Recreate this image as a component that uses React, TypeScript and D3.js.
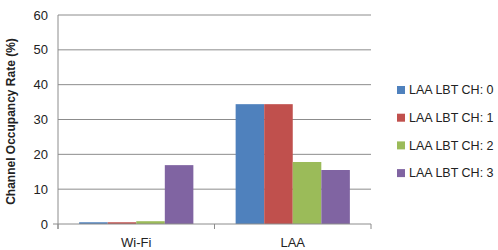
import React from "react";
import * as d3 from "d3";

const categories = ["Wi-Fi", "LAA"];
const series = ["LAA LBT CH: 0", "LAA LBT CH: 1", "LAA LBT CH: 2", "LAA LBT CH: 3"];
const colors = ["#4f81bd", "#c0504d", "#9bbb59", "#8064a2"];
// values[series][category]
const values = [
  [0.5, 34.4],
  [0.5, 34.4],
  [0.8, 17.8],
  [16.9, 15.5],
];
const yTicks = [0, 10, 20, 30, 40, 50, 60];

const W = 498;
const H = 250;
const m = { left: 58, right: 127, top: 15, bottom: 26 };

const font = "'Liberation Sans', Arial, sans-serif";

export default function App() {
  const x0 = d3
    .scaleBand()
    .domain(categories)
    .range([m.left, W - m.right]);

  const x1 = d3
    .scaleBand()
    .domain(series)
    .range([0, x0.bandwidth()])
    .paddingOuter(0.74);

  const y = d3
    .scaleLinear()
    .domain([0, 60])
    .range([H - m.bottom, m.top]);

  const bottom = H - m.bottom;

  return (
    <svg
      width={W}
      height={H}
      style={{ position: "absolute", left: 0, top: 0, background: "#fff" }}
    >
      {yTicks.map((t) => (
        <g key={`g${t}`}>
          {t > 0 && (
            <line
              x1={m.left}
              x2={W - m.right}
              y1={y(t)}
              y2={y(t)}
              stroke="#8c8c8c"
              strokeWidth={1}
            />
          )}
          <text
            x={m.left - 10}
            y={y(t)}
            dy="0.35em"
            textAnchor="end"
            fontFamily={font}
            fontSize={13}
            fill="#222"
          >
            {t}
          </text>
        </g>
      ))}

      {series.map((s, i) =>
        categories.map((c, j) => (
          <rect
            key={`b${i}-${j}`}
            x={(x0(c) ?? 0) + (x1(s) ?? 0)}
            y={y(values[i][j])}
            width={x1.bandwidth()}
            height={bottom - y(values[i][j])}
            fill={colors[i]}
          />
        ))
      )}

      {/* axes */}
      <line x1={m.left} x2={m.left} y1={m.top} y2={bottom + 5} stroke="#8c8c8c" />
      <line x1={m.left - 5} x2={W - m.right} y1={bottom} y2={bottom} stroke="#8c8c8c" />
      {[0, 1, 2].map((k) => {
        const xx = m.left + k * x0.bandwidth();
        return (
          <line key={`t${k}`} x1={xx} x2={xx} y1={bottom} y2={bottom + 5} stroke="#8c8c8c" />
        );
      })}

      {categories.map((c) => (
        <text
          key={c}
          x={(x0(c) ?? 0) + x0.bandwidth() / 2}
          y={H - 3}
          textAnchor="middle"
          fontFamily={font}
          fontSize={13}
          fill="#222"
        >
          {c}
        </text>
      ))}

      <text
        transform={`translate(15, ${(m.top + bottom) / 2 + 2}) rotate(-90)`}
        textAnchor="middle"
        fontFamily={font}
        fontSize={12}
        fontWeight="bold"
        fill="#222"
      >
        Channel Occupancy Rate (%)
      </text>

      {series.map((s, i) => {
        const ly = 90 + i * 27.7;
        return (
          <g key={s}>
            <rect x={397} y={ly - 4} width={8} height={8} fill={colors[i]} />
            <text
              x={409}
              y={ly}
              dy="0.35em"
              fontFamily={font}
              fontSize={12.5}
              fill="#222"
            >
              {s}
            </text>
          </g>
        );
      })}
    </svg>
  );
}
